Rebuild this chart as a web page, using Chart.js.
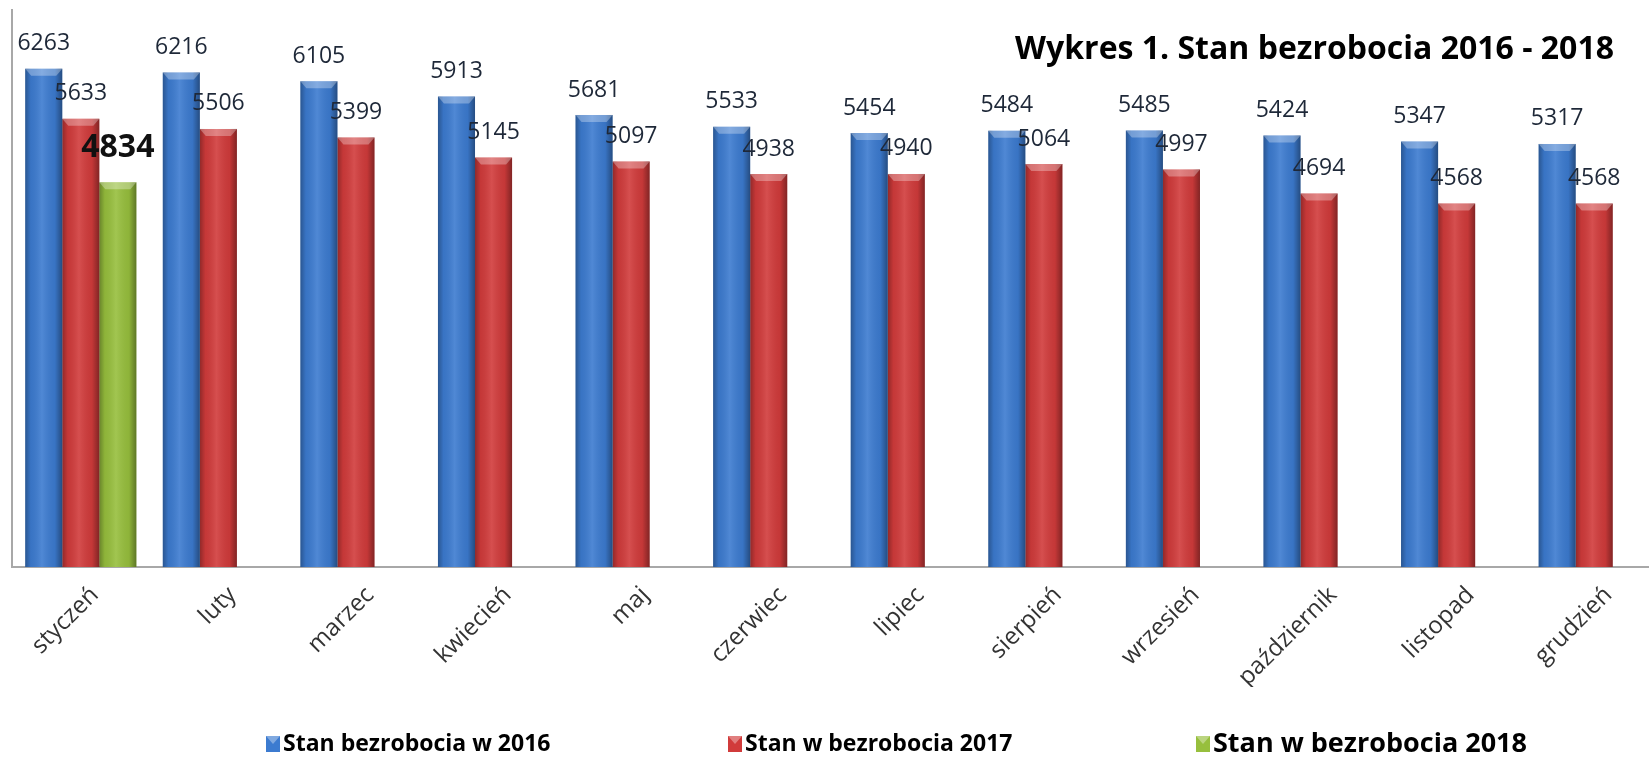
<!DOCTYPE html>
<html lang="pl">
<head>
<meta charset="UTF-8">
<title>Wykres 1. Stan bezrobocia 2016 - 2018</title>
<script src="https://cdn.jsdelivr.net/npm/chart.js"></script>
<style>
  html, body { margin: 0; padding: 0; background: #fff; overflow: hidden; }
  #wrap { position: relative; width: 1663px; height: 757px; }
</style>
</head>
<body>
<div id="wrap"><canvas id="chart"></canvas></div>
<script>
// dane
const months = ['styczeń', 'luty', 'marzec', 'kwiecień', 'maj', 'czerwiec', 'lipiec', 'sierpień', 'wrzesień', 'październik', 'listopad', 'grudzień'];
const stan2016 = [6263, 6216, 6105, 5913, 5681, 5533, 5454, 5484, 5485, 5424, 5347, 5317];
const stan2017 = [5633, 5506, 5399, 5145, 5097, 4938, 4940, 5064, 4997, 4694, 4568, 4568];
const stan2018 = [4834, null, null, null, null, null, null, null, null, null, null, null];
const seriesNames = ['Stan bezrobocia w 2016', 'Stan w bezrobocia 2017', 'Stan w bezrobocia 2018'];
const colors = ['#3c7bd0', '#d13b3b', '#97bf3d'];
const chartTitle = 'Wykres 1. Stan bezrobocia 2016 - 2018';

const FONT = '"Open Sans", "Liberation Sans", sans-serif';

// cieniowanie slupkow, etykiety wartosci, tytul i legenda
const extras = {
  id: 'extras',
  afterDatasetsDraw(chart) {
    const ctx = chart.ctx;
    ctx.save();
    chart.data.datasets.forEach((ds, di) => {
      const meta = chart.getDatasetMeta(di);
      meta.data.forEach((bar, i) => {
        if (ds.data[i] == null) return;
        const { x, y, base, width } = bar.getProps(['x', 'y', 'base', 'width'], true);
        const l = x - width / 2;
        const g = ctx.createLinearGradient(l, 0, l + width, 0);
        g.addColorStop(0, 'rgba(0,0,0,0.30)');
        g.addColorStop(0.15, 'rgba(0,0,0,0.06)');
        g.addColorStop(0.45, 'rgba(255,255,255,0.10)');
        g.addColorStop(0.8, 'rgba(0,0,0,0.06)');
        g.addColorStop(1, 'rgba(0,0,0,0.38)');
        ctx.fillStyle = g;
        ctx.fillRect(l, y, width, base - y);
        ctx.beginPath();
        ctx.moveTo(l, y);
        ctx.lineTo(l + width, y);
        ctx.lineTo(l + width - 6, y + 7);
        ctx.lineTo(l + 6, y + 7);
        ctx.closePath();
        ctx.fillStyle = 'rgba(255,255,255,0.3)';
        ctx.fill();
      });
    });
    // etykiety
    ctx.textAlign = 'center';
    ctx.textBaseline = 'middle';
    chart.data.datasets.forEach((ds, di) => {
      const meta = chart.getDatasetMeta(di);
      const bold = di === 2;
      ctx.font = (bold ? 'bold 32px ' : '23px ') + FONT;
      ctx.fillStyle = bold ? '#111' : '#1e2838';
      meta.data.forEach((bar, i) => {
        if (ds.data[i] == null) return;
        ctx.fillText(String(ds.data[i]), bar.x, bar.y - (bold ? 34 : 25));
      });
    });
    ctx.restore();
  },
  afterDraw(chart) {
    const ctx = chart.ctx;
    ctx.save();
    ctx.fillStyle = '#000';
    ctx.font = 'bold 32px ' + FONT;
    ctx.textAlign = 'right';
    ctx.textBaseline = 'middle';
    ctx.fillText(chartTitle, 1614, 50);

    const starts = [266, 728, 1196];
    const sizes = [23, 23, 27];
    const y = 744;
    ctx.textAlign = 'left';
    seriesNames.forEach((name, i) => {
      const x = starts[i];
      ctx.fillStyle = colors[i];
      ctx.fillRect(x, y - 8, 14, 16);
      ctx.fillStyle = 'rgba(255,255,255,0.35)';
      ctx.beginPath();
      ctx.moveTo(x, y - 8); ctx.lineTo(x + 14, y - 8); ctx.lineTo(x + 7, y); ctx.closePath();
      ctx.fill();
      ctx.fillStyle = '#000';
      ctx.font = 'bold ' + sizes[i] + 'px ' + FONT;
      ctx.fillText(name, x + 17, y);
    });
    ctx.restore();
  }
};

const ctx = document.getElementById('chart').getContext('2d');
new Chart(ctx, {
  type: 'bar',
  data: {
    labels: months,
    datasets: [stan2016, stan2017, stan2018].map((d, i) => ({
      label: seriesNames[i],
      data: d,
      backgroundColor: colors[i],
      borderWidth: 0,
      categoryPercentage: 0.808,
      barPercentage: 1.0
    }))
  },
  options: {
    responsive: true,
    maintainAspectRatio: false,
    animation: false,
    layout: { padding: { left: 4, right: 0, top: 10, bottom: 70 } },
    plugins: {
      legend: { display: false },
      title: { display: false },
      tooltip: { enabled: false }
    },
    scales: {
      x: {
        grid: { display: false },
        border: { display: true, color: '#a8a8a8', width: 2 },
        ticks: {
          color: '#333',
          font: { family: FONT, size: 24 },
          maxRotation: 45,
          minRotation: 45,
          padding: 6,
          labelOffset: 14,
          autoSkip: false
        },
        afterFit(scale) {
          scale.height = 120;
          scale.paddingLeft = 0;
          scale.paddingRight = 0;
        }
      },
      y: {
        min: 0,
        max: 7000,
        grid: { display: false },
        border: { display: true, color: '#a8a8a8', width: 2 },
        ticks: { display: false }
      }
    }
  },
  plugins: [extras]
});
</script>
</body>
</html>
